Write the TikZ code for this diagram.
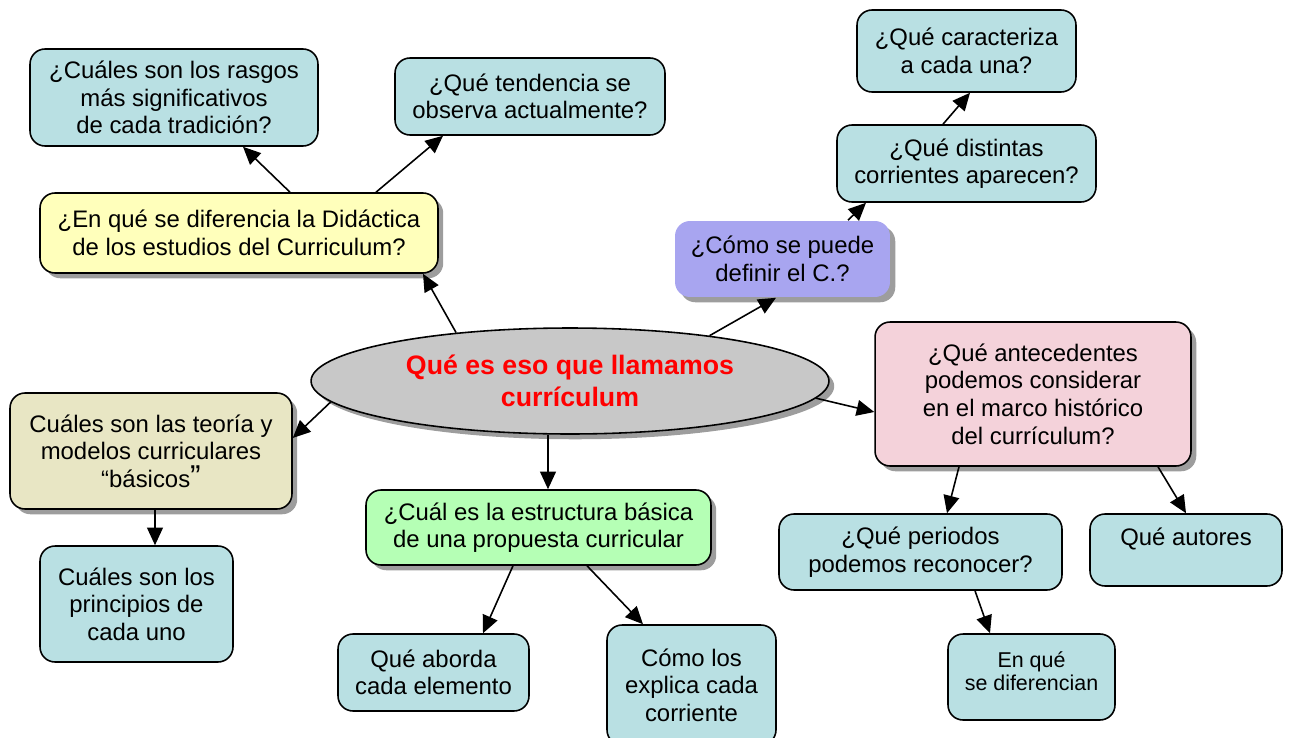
\documentclass[tikz,border=0pt]{standalone}
\usepackage{fontspec}
\setmainfont{Liberation Sans}
\usetikzlibrary{arrows.meta,shapes.geometric,shadows}
\definecolor{teal1}{HTML}{B9E0E3}
\definecolor{yel1}{HTML}{FFFFBB}
\definecolor{pur1}{HTML}{A8A5F0}
\definecolor{pink1}{HTML}{F4D2DA}
\definecolor{khaki1}{HTML}{E8E6C4}
\definecolor{green1}{HTML}{B5FFB5}
\definecolor{ell1}{HTML}{C8C8C8}
\tikzset{
  qbox/.style={draw=black, line width=0.9pt, rounded corners=0.3cm, fill=teal1, align=center, inner sep=2pt, font=\fontsize{13.6}{15.7}\selectfont},
  shad/.style={drop shadow={shadow xshift=3pt, shadow yshift=-3pt, fill=black!55, opacity=0.7}},
  arr/.style={line width=0.9pt, -{Triangle[length=10pt,width=9pt]}}
}
\begin{document}
\begin{tikzpicture}[x=0.02cm,y=-0.02cm]
\useasboundingbox (0,0) rectangle (1291,737);
\node[qbox, minimum width=5.76cm, minimum height=1.94cm] (ras) at (174,97.5) {¿Cuáles son los rasgos\\más significativos\\de cada tradición?};
\node[qbox, minimum width=5.4cm, minimum height=1.54cm] (ten) at (530,96.5) {¿Qué tendencia se\\observa actualmente?};
\node[qbox, shad, fill=yel1, minimum width=7.96cm, minimum height=1.6cm] (dif) at (239,233) {¿En qué se diferencia la Didáctica\\de los estudios del Curriculum?};
\node[qbox, minimum width=4.38cm, minimum height=1.64cm] (car) at (966.5,51) {¿Qué caracteriza\\a cada una?};
\node[qbox, minimum width=5.18cm, minimum height=1.54cm] (dis) at (966.5,163.5) {¿Qué distintas\\corrientes aparecen?};
\node[qbox, shad, draw=none, fill=pur1, minimum width=4.3cm, minimum height=1.52cm] (com) at (782.5,259) {¿Cómo se puede\\definir el C.?};
\node[ellipse, draw=black, line width=0.9pt, fill=ell1, shad, minimum width=10.36cm, minimum height=2.12cm, inner sep=0pt, align=center, text=red, font=\bfseries\fontsize{15.2}{18}\selectfont] (ell) at (570,381) {Qué es eso que llamamos\\currículum};
\node[qbox, shad, fill=pink1, minimum width=6.32cm, minimum height=2.88cm] (ant) at (1033,394) {¿Qué antecedentes\\podemos considerar\\en el marco histórico\\del currículum?};
\node[qbox, shad, fill=khaki1, minimum width=5.64cm, minimum height=2.32cm] (teo) at (151,451) {Cuáles son las teoría y\\modelos curriculares\\“básicos{\fontsize{18}{15}\selectfont ”}};
\node[qbox, minimum width=3.86cm, minimum height=2.32cm] (pri) at (136.5,604) {Cuáles son los\\principios de\\cada uno};
\node[qbox, shad, fill=green1, minimum width=6.9cm, minimum height=1.5cm] (est) at (538.5,527.5) {¿Cuál es la estructura básica\\de una propuesta curricular};
\node[qbox, minimum width=3.82cm, minimum height=1.54cm] (abo) at (433.5,672.5) {Qué aborda\\cada elemento};
\node[qbox, minimum width=3.38cm, minimum height=2.4cm] (exp) at (691.5,685) {Cómo los\\explica cada\\corriente};
\node[qbox, minimum width=5.66cm, minimum height=1.52cm] (per) at (920.5,552) {¿Qué periodos\\podemos reconocer?};
\node[qbox, minimum width=3.84cm, minimum height=1.44cm] (aut) at (1186,550) {Qué autores\\[-5pt]\strut};
\node[qbox, minimum width=3.34cm, minimum height=1.72cm, text depth=7pt, font=\fontsize{12.2}{13}\selectfont] (dfn) at (1031.5,677) {En qué\\se diferencian};
% connectors
\draw[arr] (290,0 |- dif.north) -- (243,0 |- ras.south);
\draw[arr] (376,0 |- dif.north) -- (443,0 |- ten.south);
\draw[arr] (ell.157) -- (423,0 |- dif.south);
\draw[arr] (ell.18) -- (776,0 |- com.south);
\draw[arr] (848,0 |- com.north) -- (866,0 |- dis.south);
\draw[arr] (943,0 |- dis.north) -- (970,0 |- car.south);
\draw[arr] (ell.-4) -- (ant.west |- 0,412);
\draw[arr] (ell.185.6) -- (teo.east |- 0,438);
\draw[arr] (548,0 |- ell.south) -- (548,0 |- est.north);
\draw[arr] (155,0 |- teo.south) -- (155,0 |- pri.north);
\draw[arr] (513,0 |- est.south) -- (483,0 |- abo.north);
\draw[arr] (587,0 |- est.south) -- (643,0 |- exp.north);
\draw[arr] (959,0 |- ant.south) -- (947,0 |- per.north);
\draw[arr] (1158,0 |- ant.south) -- (1186,0 |- aut.north);
\draw[arr] (975,0 |- per.south) -- (990,0 |- dfn.north);
\end{tikzpicture}
\end{document}
